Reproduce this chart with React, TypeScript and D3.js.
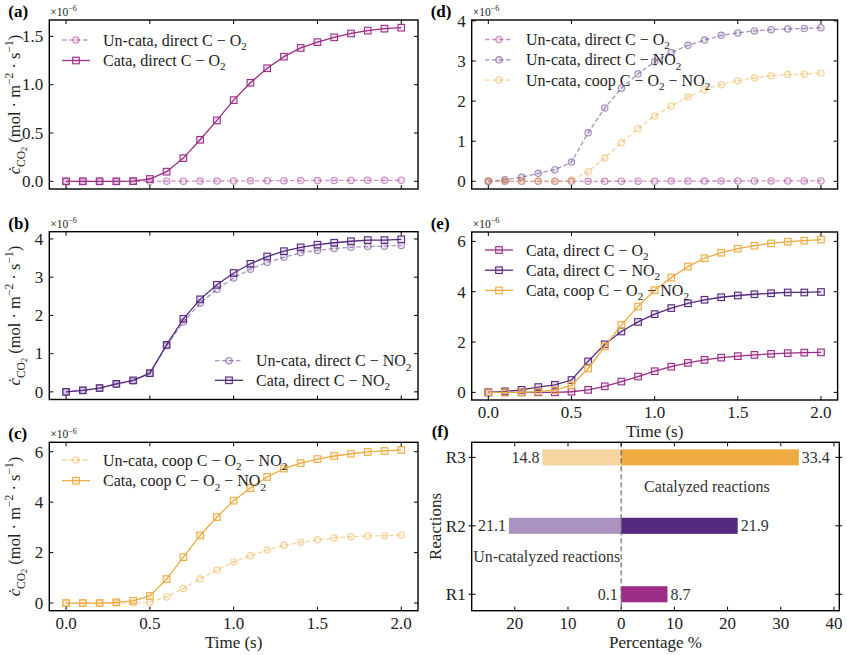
import React from 'react';
import * as d3 from 'd3';

// ---------- data ----------
const TIME = [0.0, 0.1, 0.2, 0.3, 0.4, 0.5, 0.6, 0.7, 0.8, 0.9, 1.0, 1.1, 1.2, 1.3, 1.4, 1.5, 1.6, 1.7, 1.8, 1.9, 2.0];
const UNCATA_DIRECT_O2 = [0.0, 0.0, 0.0, 0.0, 0.0, 0.0, 0.001, 0.001, 0.002, 0.003, 0.004, 0.005, 0.006, 0.007, 0.008, 0.008, 0.009, 0.009, 0.010, 0.010, 0.011];
const CATA_DIRECT_O2 = [0.0, 0.0, 0.0, 0.0, 0.002, 0.024, 0.10, 0.24, 0.43, 0.63, 0.84, 1.02, 1.17, 1.29, 1.38, 1.44, 1.49, 1.53, 1.56, 1.58, 1.59];
const UNCATA_DIRECT_NO2 = [0.0, 0.04, 0.10, 0.20, 0.29, 0.48, 1.21, 1.83, 2.32, 2.68, 2.98, 3.21, 3.39, 3.52, 3.64, 3.70, 3.75, 3.78, 3.80, 3.81, 3.83];
const CATA_DIRECT_NO2 = [0.0, 0.04, 0.10, 0.21, 0.30, 0.49, 1.23, 1.91, 2.42, 2.80, 3.11, 3.35, 3.54, 3.68, 3.78, 3.85, 3.90, 3.94, 3.97, 3.97, 3.99];
const UNCATA_COOP = [0.0, 0.0, 0.0, 0.0, 0.0, 0.03, 0.24, 0.58, 0.96, 1.31, 1.63, 1.88, 2.10, 2.29, 2.41, 2.51, 2.58, 2.63, 2.66, 2.67, 2.70];
const CATA_COOP = [0.0, 0.0, 0.0, 0.03, 0.09, 0.28, 0.95, 1.82, 2.68, 3.41, 4.06, 4.56, 5.00, 5.33, 5.55, 5.71, 5.83, 5.92, 5.99, 6.03, 6.07];

const TIME_TICKS = [0, 0.5, 1.0, 1.5, 2.0];
const YTICKS_A = [0, 0.5, 1.0, 1.5];
const YTICKS_B = [0, 1, 2, 3, 4];
const YTICKS_C = [0, 2, 4, 6];
const YTICKS_D = [0, 1, 2, 3, 4];
const YTICKS_E = [0, 2, 4, 6];

const REACTIONS = ['R1', 'R2', 'R3'];
const PCT_UNCATA = [0.1, 21.1, 14.8];
const PCT_CATA = [8.7, 21.9, 33.4];
const PCT_TICKS = [-20, -10, 0, 10, 20, 30, 40];

// ---------- style ----------
const MAGENTA = '#9b2d87';
const PURPLE = '#55297f';
const ORANGE = '#eeab42';
const FONT = 'Liberation Serif, DejaVu Serif, serif';
const TICK_FS = 17;
const LEG_FS = 16;

type Part = { t: string; s?: 'sub' | 'subsub' | 'sup'; it?: boolean };

const SHIFT: Record<string, number> = { sub: 0.28, subsub: 0.45, sup: -0.4 };
const SCALE: Record<string, number> = { sub: 0.7, subsub: 0.5, sup: 0.7 };

function Rich({ parts, size, ...rest }: { parts: Part[]; size: number; [k: string]: any }) {
  let cur = 0;
  return (
    <text fontSize={size} style={{ fontFamily: FONT }} {...rest}>
      {parts.map((p, i) => {
        const target = p.s ? SHIFT[p.s] * size : 0;
        const dy = target - cur;
        cur = target;
        return (
          <tspan key={i} dy={dy} fontSize={p.s ? SCALE[p.s] * size : size} fontStyle={p.it ? 'italic' : undefined}>
            {p.t}
          </tspan>
        );
      })}
    </text>
  );
}

const lbl = (pre: string, rest: Part[] = []): Part[] => [{ t: pre }, ...rest];
const O2: Part[] = [{ t: 'O' }, { t: '2', s: 'sub' }];
const NO2: Part[] = [{ t: 'NO' }, { t: '2', s: 'sub' }];

const L_UN_O2 = lbl('Un-cata, direct C \u2212 ', O2);
const L_CA_O2 = lbl('Cata, direct C \u2212 ', O2);
const L_UN_NO2 = lbl('Un-cata, direct C \u2212 ', NO2);
const L_CA_NO2 = lbl('Cata, direct C \u2212 ', NO2);
const L_UN_CO: Part[] = [{ t: 'Un-cata, coop C \u2212 O' }, { t: '2', s: 'sub' }, { t: ' \u2212 NO' }, { t: '2', s: 'sub' }];
const L_CA_CO: Part[] = [{ t: 'Cata, coop C \u2212 O' }, { t: '2', s: 'sub' }, { t: ' \u2212 NO' }, { t: '2', s: 'sub' }];

const YLABEL: Part[] = [
  { t: '\u010B', it: true },
  { t: 'CO', s: 'sub' },
  { t: '2', s: 'subsub' },
  { t: ' (mol \u00B7 m' },
  { t: '\u22122', s: 'sup' },
  { t: ' \u00B7 s' },
  { t: '\u22121', s: 'sup' },
  { t: ')' },
];

type Series = { values: number[]; color: string; light: boolean; label: Part[] };
type Box = { l: number; r: number; t: number; b: number };

function Marker({ x, y, color, light }: { x: number; y: number; color: string; light: boolean }) {
  if (light) {
    return <circle cx={x} cy={y} r={3.2} fill={color} fillOpacity={0.12} stroke={color} strokeOpacity={0.5} strokeWidth={1.1} />;
  }
  const s = 6.6;
  return <rect x={x - s / 2} y={y - s / 2} width={s} height={s} fill={color} fillOpacity={0.12} stroke={color} strokeWidth={1.1} />;
}

function Ticks({ box, xs, ys, x, y, inout }: any) {
  const L = 4;
  return (
    <g stroke="#000" strokeWidth={1}>
      {xs.map((v: number, i: number) => (
        <g key={'x' + i}>
          <line x1={x(v)} x2={x(v)} y1={box.b} y2={box.b - L} />
          <line x1={x(v)} x2={x(v)} y1={box.t} y2={box.t + L} />
        </g>
      ))}
      {ys.map((v: number, i: number) => (
        <g key={'y' + i}>
          <line x1={box.l - (inout ? 3 : 0)} x2={box.l + L} y1={y(v)} y2={y(v)} />
          <line x1={box.r + (inout ? 3 : 0)} x2={box.r - L} y1={y(v)} y2={y(v)} />
        </g>
      ))}
    </g>
  );
}

function T(props: any) {
  const { children, ...rest } = props;
  return <text style={{ fontFamily: FONT }} fill="#222" {...rest}>{children}</text>;
}

function LinePanel({ box, series, yTicks, decimals, legend, showX, tag, yLabel }: {
  box: Box; series: Series[]; yTicks: number[]; decimals: number;
  legend: { x: number; y: number; dy: number }; showX: boolean; tag: string; yLabel: boolean;
}) {
  const all = series.flatMap((s) => s.values);
  const mn = d3.min(all) as number;
  const mx = d3.max(all) as number;
  const pad = (mx - mn) * 0.05;
  const x = d3.scaleLinear().domain([-0.1, 2.1]).range([box.l, box.r]);
  const y = d3.scaleLinear().domain([mn - pad, mx + pad]).range([box.b, box.t]);
  const line = d3.line<number>().x((_, i) => x(TIME[i])).y((d) => y(d));
  const cy = (box.t + box.b) / 2;
  return (
    <g>
      <g>
        {series.map((s, si) => (
          <g key={si}>
            <path d={line(s.values) || ''} fill="none" stroke={s.color} strokeOpacity={s.light ? 0.5 : 1}
              strokeWidth={1.3} strokeDasharray={s.light ? '4.5,2.5' : undefined} />
            {s.values.map((v, i) => (
              <Marker key={i} x={x(TIME[i])} y={y(v)} color={s.color} light={s.light} />
            ))}
          </g>
        ))}
      </g>
      {series.map((s, i) => {
        const ly = legend.y + i * legend.dy;
        return (
          <g key={'leg' + i}>
            <line x1={legend.x} x2={legend.x + 28} y1={ly} y2={ly} stroke={s.color} strokeOpacity={s.light ? 0.5 : 1}
              strokeWidth={1.3} strokeDasharray={s.light ? '4.5,2.5' : undefined} />
            <Marker x={legend.x + 14} y={ly} color={s.color} light={s.light} />
            <Rich parts={s.label} size={LEG_FS} x={legend.x + 41} y={ly + 5.5} fill="#222" />
          </g>
        );
      })}
      <rect x={box.l} y={box.t} width={box.r - box.l} height={box.b - box.t} fill="none" stroke="#000" strokeWidth={1.4} />
      <Ticks box={box} xs={TIME_TICKS} ys={yTicks} x={x} y={y} />
      {yTicks.map((v, i) => (
        <T key={i} x={box.l - 6} y={y(v) + 5.8} textAnchor="end" fontSize={TICK_FS}>{v.toFixed(decimals)}</T>
      ))}
      {showX && TIME_TICKS.map((v, i) => (
        <T key={i} x={x(v)} y={box.b + 18} textAnchor="middle" fontSize={TICK_FS}>{v.toFixed(1)}</T>
      ))}
      {showX && (
        <T x={(box.l + box.r) / 2} y={box.b + 37} textAnchor="middle" fontSize={17}>Time (s)</T>
      )}
      <Rich parts={[{ t: '\u00D710' }, { t: '\u22126', s: 'sup' }]} size={11.5} x={box.l + 1} y={box.t - 4} fill="#222" />
      <T x={box.l - 41} y={box.t - 3} fontSize={17} fontWeight="bold" fill="#000">{tag}</T>
      {yLabel && (
        <Rich parts={YLABEL} size={16.5} transform={`translate(20,${cy}) rotate(-90)`} textAnchor="middle" fill="#222" />
      )}
    </g>
  );
}

function BarPanel({ box }: { box: Box }) {
  const x = d3.scaleLinear().domain([-28.1, 41]).range([box.l, box.r]);
  const y = d3.scaleLinear().domain([-0.24, 2.22]).range([box.b, box.t]);
  const h = y(0) - y(0.235);
  const idx = REACTIONS.map((_, i) => i);
  const colors = [MAGENTA, PURPLE, ORANGE];
  return (
    <g>
      {idx.map((i) => (
        <g key={i}>
          <rect x={x(-PCT_UNCATA[i])} y={y(i) - h / 2} width={x(0) - x(-PCT_UNCATA[i])} height={h} fill={colors[i]} fillOpacity={0.5} />
          <rect x={x(0)} y={y(i) - h / 2} width={x(PCT_CATA[i]) - x(0)} height={h} fill={colors[i]} />
          <T x={x(-PCT_UNCATA[i]) - 3} y={y(i) + 5.5} textAnchor="end" fontSize={16} fill="#333">{PCT_UNCATA[i].toFixed(1)}</T>
          <T x={x(PCT_CATA[i]) + 3} y={y(i) + 5.5} textAnchor="start" fontSize={16} fill="#333">{PCT_CATA[i].toFixed(1)}</T>
        </g>
      ))}
      <line x1={x(0)} x2={x(0)} y1={box.t} y2={box.b} stroke="#666" strokeWidth={1.2} strokeDasharray="5,3" />
      <T x={x(16.1)} y={y(1.56) + 5} textAnchor="middle" fontSize={16} fill="#333">Catalyzed reactions</T>
      <T x={x(-14)} y={y(0.55) + 5} textAnchor="middle" fontSize={16} fill="#333">Un-catalyzed reactions</T>
      <rect x={box.l} y={box.t} width={box.r - box.l} height={box.b - box.t} fill="none" stroke="#000" strokeWidth={1.4} />
      <Ticks box={box} xs={PCT_TICKS} ys={idx} x={x} y={y} inout />
      {PCT_TICKS.map((v, i) => (
        <T key={i} x={x(v)} y={box.b + 18} textAnchor="middle" fontSize={TICK_FS}>{Math.abs(v)}</T>
      ))}
      {idx.map((i) => (
        <T key={i} x={box.l - 6} y={y(i) + 6} textAnchor="end" fontSize={TICK_FS}>{REACTIONS[i]}</T>
      ))}
      <T x={(box.l + box.r) / 2} y={box.b + 37} textAnchor="middle" fontSize={17}>Percentage %</T>
      <T transform={`translate(441,${(box.t + box.b) / 2}) rotate(-90)`} textAnchor="middle" fontSize={17}>Reactions</T>
      <T x={box.l - 40} y={box.t - 5} fontSize={17} fontWeight="bold" fill="#000">(f)</T>
    </g>
  );
}

export default function App() {
  const L = 49.3, R = 418, L2 = 471.7, R2 = 837.6;
  return (
    <svg width={847} height={655} style={{ position: 'absolute', left: 0, top: 0, background: '#fff', fontFamily: FONT }}>
      <rect width={847} height={655} fill="#fff" />
      <LinePanel box={{ l: L, r: R, t: 20, b: 189 }} tag="(a)" yLabel decimals={1} yTicks={YTICKS_A} showX={false}
        legend={{ x: 62, y: 40, dy: 20.5 }}
        series={[
          { values: UNCATA_DIRECT_O2, color: MAGENTA, light: true, label: L_UN_O2 },
          { values: CATA_DIRECT_O2, color: MAGENTA, light: false, label: L_CA_O2 },
        ]} />
      <LinePanel box={{ l: L, r: R, t: 231.7, b: 399.5 }} tag="(b)" yLabel decimals={0} yTicks={YTICKS_B} showX={false}
        legend={{ x: 215, y: 360.7, dy: 19.6 }}
        series={[
          { values: UNCATA_DIRECT_NO2, color: PURPLE, light: true, label: L_UN_NO2 },
          { values: CATA_DIRECT_NO2, color: PURPLE, light: false, label: L_CA_NO2 },
        ]} />
      <LinePanel box={{ l: L, r: R, t: 442.3, b: 610.7 }} tag="(c)" yLabel decimals={0} yTicks={YTICKS_C} showX
        legend={{ x: 62, y: 460, dy: 20.7 }}
        series={[
          { values: UNCATA_COOP, color: ORANGE, light: true, label: L_UN_CO },
          { values: CATA_COOP, color: ORANGE, light: false, label: L_CA_CO },
        ]} />
      <LinePanel box={{ l: L2, r: R2, t: 20, b: 189 }} tag="(d)" yLabel={false} decimals={0} yTicks={YTICKS_D} showX={false}
        legend={{ x: 485, y: 39.5, dy: 20.3 }}
        series={[
          { values: UNCATA_DIRECT_O2, color: MAGENTA, light: true, label: L_UN_O2 },
          { values: UNCATA_DIRECT_NO2, color: PURPLE, light: true, label: L_UN_NO2 },
          { values: UNCATA_COOP, color: ORANGE, light: true, label: L_UN_CO },
        ]} />
      <LinePanel box={{ l: L2, r: R2, t: 232, b: 400 }} tag="(e)" yLabel={false} decimals={0} yTicks={YTICKS_E} showX
        legend={{ x: 485, y: 250, dy: 20.2 }}
        series={[
          { values: CATA_DIRECT_O2, color: MAGENTA, light: false, label: L_CA_O2 },
          { values: CATA_DIRECT_NO2, color: PURPLE, light: false, label: L_CA_NO2 },
          { values: CATA_COOP, color: ORANGE, light: false, label: L_CA_CO },
        ]} />
      <BarPanel box={{ l: L2, r: 839.3, t: 442.3, b: 610.7 }} />
    </svg>
  );
}
